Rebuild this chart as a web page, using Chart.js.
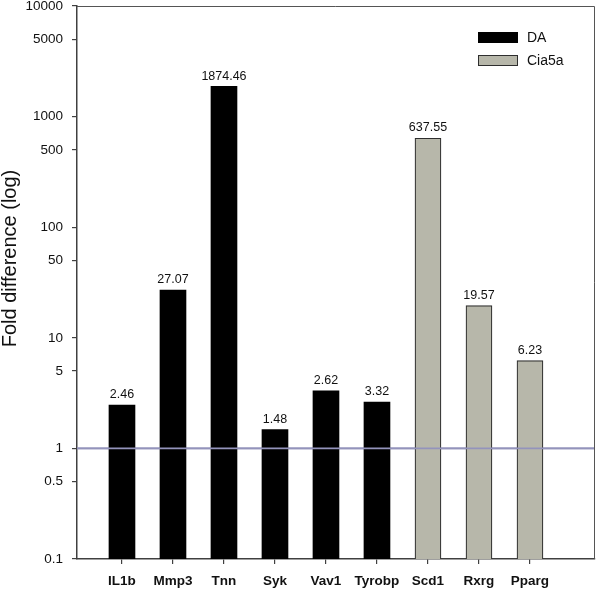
<!DOCTYPE html>
<html>
<head>
<meta charset="utf-8">
<script src="https://cdn.jsdelivr.net/npm/chart.js@4/dist/chart.umd.min.js"></script>
<style>
  html, body { margin: 0; padding: 0; background: #fff; }
  #wrap { width: 600px; height: 589px; }
</style>
</head>
<body>
<div id="wrap"><canvas id="chart" width="600" height="589"></canvas></div>
<script>
// categories on the x axis
const categories = ['IL1b', 'Mmp3', 'Tnn', 'Syk', 'Vav1', 'Tyrobp', 'Scd1', 'Rxrg', 'Pparg'];
// strain each gene belongs to
const groups = ['DA', 'DA', 'DA', 'DA', 'DA', 'DA', 'Cia5a', 'Cia5a', 'Cia5a'];
// bar heights as drawn (Vav1 / Tyrobp bars are drawn swapped vs. their labels)
const barValues = [2.46, 27.07, 1874.46, 1.48, 3.32, 2.62, 637.55, 19.57, 6.23];
// numbers printed above the bars
const valueLabels = ['2.46', '27.07', '1874.46', '1.48', '2.62', '3.32', '637.55', '19.57', '6.23'];
// y axis ticks (log)
const yTicks = [0.1, 0.5, 1, 5, 10, 50, 100, 500, 1000, 5000, 10000];
const refLine = 1;
const yTitle = 'Fold difference (log)';

const groupNames = ['DA', 'Cia5a'];
const groupFill = { 'DA': '#000000', 'Cia5a': '#b7b7aa' };
const groupBorder = { 'DA': '#000000', 'Cia5a': '#2e2e2e' };
const FONT = '"Liberation Sans", Arial, sans-serif';

// een dataset per groep, x = index van de kategorie
let datasets = groupNames.map(g => ({
    label: g,
    data: categories.map((c, i) => ({ x: i, y: barValues[i], lbl: valueLabels[i], g: groups[i] }))
                    .filter(d => d.g === g),
    backgroundColor: groupFill[g],
    borderColor: groupBorder[g],
    borderWidth: g === 'DA' ? 0 : 1.2,
    barThickness: 26,
    grouped: false
}));

function drawRefLine(chart) {
    const ctx = chart.ctx;
    const a = chart.chartArea;
    const y1 = chart.scales.y.getPixelForValue(refLine);
    ctx.save();
    ctx.strokeStyle = '#9393bb';
    ctx.lineWidth = 1.6;
    ctx.beginPath();
    ctx.moveTo(a.left, y1);
    ctx.lineTo(a.right, y1);
    ctx.stroke();
    ctx.restore();
}

// frame, referencni cara, popisky hodnot, titulek osy a legenda
const extras = {
    id: 'extras',
    afterDatasetsDraw(chart) {
        const ctx = chart.ctx;
        const a = chart.chartArea;
        // line at 1 shows through the bars
        drawRefLine(chart);
        ctx.save();

        // frame top + right
        ctx.strokeStyle = '#555';
        ctx.lineWidth = 1;
        ctx.beginPath();
        ctx.moveTo(a.left, a.top + 0.5);
        ctx.lineTo(a.right - 0.5, a.top + 0.5);
        ctx.lineTo(a.right - 0.5, a.bottom);
        ctx.stroke();

        // values above bars
        ctx.fillStyle = '#111';
        ctx.font = '12.5px ' + FONT;
        ctx.textAlign = 'center';
        ctx.textBaseline = 'bottom';
        chart.data.datasets.forEach((ds, di) => {
            const meta = chart.getDatasetMeta(di);
            meta.data.forEach((bar, k) => {
                ctx.fillText(ds.data[k].lbl, bar.x, bar.y - 4);
            });
        });

        // y axis title
        ctx.save();
        ctx.translate(10, (a.top + a.bottom) / 2 - 24);
        ctx.rotate(-Math.PI / 2);
        ctx.font = '20px ' + FONT;
        ctx.textAlign = 'center';
        ctx.textBaseline = 'middle';
        ctx.fillText(yTitle, 0, 0);
        ctx.restore();

        // legend
        ctx.font = '14px ' + FONT;
        ctx.textAlign = 'left';
        ctx.textBaseline = 'middle';
        groupNames.forEach((g, i) => {
            const sx = a.right - 117;
            const sy = a.top + 26 + i * 23;
            ctx.fillStyle = groupFill[g];
            ctx.fillRect(sx, sy, 40, 11);
            if (g !== 'DA') {
                ctx.strokeStyle = groupBorder[g];
                ctx.lineWidth = 1;
                ctx.strokeRect(sx + 0.5, sy + 0.5, 39, 10);
            }
            ctx.fillStyle = '#111';
            ctx.fillText(g, a.right - 68, sy + 6);
        });
        ctx.restore();
    }
};

let ctx = document.getElementById('chart').getContext('2d');
let chart = new Chart(ctx, {
    type: 'bar',
    data: { datasets: datasets },
    options: {
        responsive: false,
        animation: false,
        layout: { padding: { top: 6, right: 5, left: 0, bottom: 0 } },
        plugins: {
            legend: { display: false },
            tooltip: { enabled: false }
        },
        scales: {
            x: {
                type: 'linear',
                min: -0.882,
                max: 9.275,
                offset: false,
                afterBuildTicks: s => { s.ticks = categories.map((c, i) => ({ value: i })); },
                afterFit: s => { s.height = 30; s.paddingLeft = 0; s.paddingRight = 0; },
                grid: { offset: false, drawOnChartArea: false, drawTicks: true, tickLength: 5, color: '#404040', lineWidth: 1.2 },
                border: { display: true, color: '#404040', width: 1.5 },
                ticks: {
                    padding: 9,
                    color: '#111',
                    font: { family: FONT, size: 13.5, weight: 'bold' },
                    callback: v => categories[v] !== undefined ? categories[v] : ''
                }
            },
            y: {
                type: 'logarithmic',
                min: 0.1,
                max: 10000,
                afterBuildTicks: s => { s.ticks = yTicks.map(v => ({ value: v })); },
                afterFit: s => { s.width = 77; s.paddingTop = 0; s.paddingBottom = 0; },
                grid: { drawOnChartArea: false, drawTicks: true, tickLength: 5, color: '#404040', lineWidth: 1.2 },
                border: { display: true, color: '#404040', width: 1.5 },
                ticks: {
                    padding: 9,
                    color: '#111',
                    font: { family: FONT, size: 13.5 },
                    callback: v => String(v)
                }
            }
        }
    },
    plugins: [{ id: 'refline', beforeDatasetsDraw: drawRefLine }, extras]
});
</script>
</body>
</html>
